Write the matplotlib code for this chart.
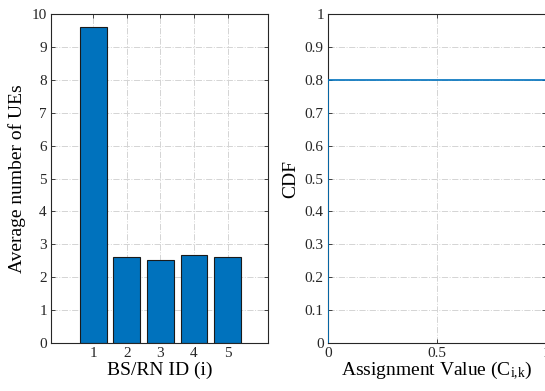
import numpy as np
import matplotlib.pyplot as plt

# data
bs_ids = [1, 2, 3, 4, 5]
avg_ues = [9.62, 2.60, 2.53, 2.66, 2.62]

# CDF of the assignment value (80% zeros, 20% ones)
cdf_x = [0, 0, 1, 1]
cdf_y = [0, 0.8, 0.8, 1.0]

plt.rcParams['font.family'] = ['Liberation Serif', 'DejaVu Serif']
plt.rcParams['mathtext.fontset'] = 'custom'
plt.rcParams['mathtext.rm'] = 'Liberation Serif'
plt.rcParams['mathtext.it'] = 'Liberation Serif:italic'

W, H = 545, 391
fig = plt.figure(figsize=(W / 100, H / 100), dpi=100)

axis_col = '#262626'
blue = '#0072BD'


def style(ax):
    for s in ax.spines.values():
        s.set_color(axis_col)
        s.set_linewidth(0.8)
    ax.tick_params(direction='in', top=True, right=True, length=3,
                   width=0.6, colors=axis_col, labelsize=11, pad=3)
    ax.grid(True, linestyle='-.', color='#d4d4d4', linewidth=0.7)
    ax.set_axisbelow(True)


# left: bar chart
ax1 = fig.add_axes([51 / W, 1 - 343 / H, (268 - 51) / W, (343 - 14) / H])
ax1.bar(bs_ids, avg_ues, width=0.8, color=blue, edgecolor='#1a1a1a', linewidth=0.8)
ax1.set_xlim(-0.25, 6.2)
ax1.set_ylim(0, 10)
ax1.set_xticks(bs_ids)
ax1.set_yticks(np.arange(0, 11, 1))
style(ax1)
ax1.set_xlabel('BS/RN ID (i)', fontsize=14, labelpad=1)
ax1.set_ylabel('Average number of UEs', fontsize=14, labelpad=4)

# right: CDF
ax2 = fig.add_axes([328 / W, 1 - 343 / H, (546 - 328) / W, (343 - 14) / H])
ax2.plot(cdf_x, cdf_y, color=blue, linewidth=1.2, zorder=3)
ax2.set_xlim(0, 1)
ax2.set_ylim(0, 1)
ax2.set_xticks([0, 0.5, 1])
ax2.set_xticklabels(['0', '0.5', '1'])
ax2.set_yticks(np.round(np.arange(0, 1.01, 0.1), 1))
ax2.set_yticklabels(['0'] + [f'{v:.1f}' for v in np.arange(0.1, 0.95, 0.1)] + ['1'])
style(ax2)
ax2.set_xlabel('Assignment Value (C$_{\\mathrm{i,\\!k}}$)', fontsize=14, labelpad=0)
ax2.set_ylabel('CDF', fontsize=14, labelpad=4)

fig.savefig('out.png', dpi=100)
